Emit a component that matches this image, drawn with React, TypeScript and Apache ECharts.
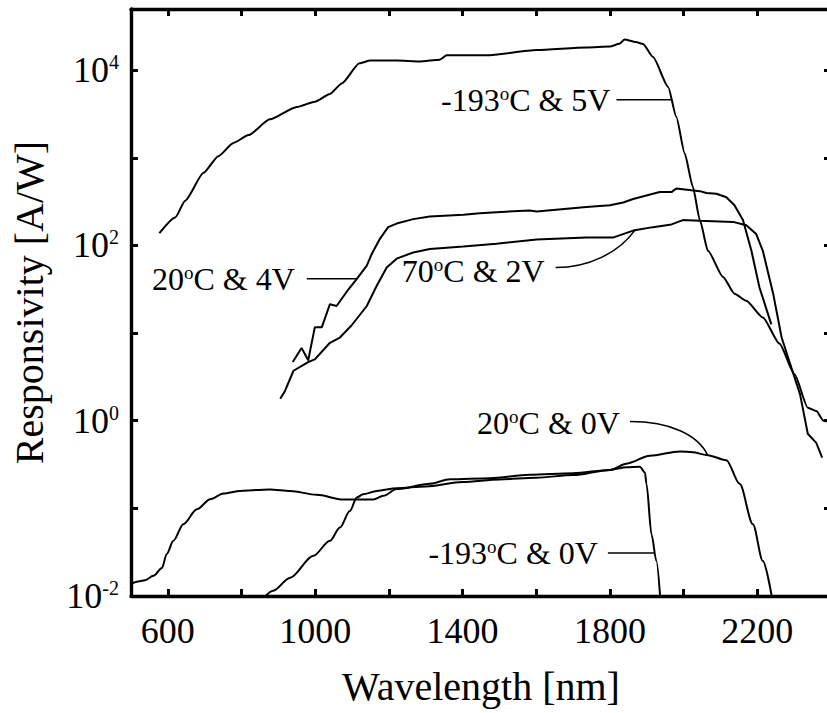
import React, { useEffect, useRef } from 'react';
import * as echarts from 'echarts';

const FONT = "'Liberation Serif', 'Times New Roman', Times, serif";

// Axis ticks / labels
const xTickValues = [600, 800, 1000, 1200, 1400, 1600, 1800, 2000, 2200, 2400];
const xLabelValues = [600, 1000, 1400, 1800, 2200];
const yTickValues = [0.01, 0.1, 1, 10, 100, 1000, 10000];
const yLabelValues = [0.01, 1, 100, 10000];

// -193°C & 5V
const wlCold5V = [577, 620, 647, 697, 737, 778, 819, 877, 950, 999, 1040, 1072, 1120, 1149, 1221, 1284, 1338, 1357, 1465, 1601, 1736, 1800, 1825, 1840, 1870, 1890, 1917, 1958, 1980, 2003, 2025, 2044, 2066, 2107, 2138, 2170, 2215, 2260, 2301, 2337, 2360, 2380, 2400];
const rCold5V = [138, 209, 324, 676, 1047, 1479, 1820, 2754, 3802, 4365, 5370, 7079, 12023, 12882, 12882, 12589, 13183, 14791, 14791, 16982, 18197, 18621, 20000, 22400, 21000, 19950, 14125, 6457, 2951, 1122, 468, 195, 87, 43.7, 28.2, 23.4, 15.1, 7.6, 3.39, 1.41, 1.29, 1.0, 0.95];

// 20°C & 4V
const wlRoom4V = [939, 963, 981, 999, 1018, 1040, 1058, 1085, 1113, 1140, 1153, 1176, 1198, 1221, 1266, 1311, 1402, 1447, 1492, 1582, 1601, 1736, 1800, 1836, 1863, 1935, 1967, 1980, 2021, 2044, 2062, 2089, 2116, 2138, 2161, 2184, 2206, 2238];
const rRoom4V = [4.68, 6.76, 4.9, 11.7, 11.7, 21.4, 20.4, 29.5, 41.7, 58.9, 79.4, 120, 162, 178, 200, 214, 224, 234, 240, 251, 245, 275, 288, 309, 339, 407, 407, 447, 427, 417, 398, 389, 355, 288, 195, 87, 33, 12.6];

// 70°C & 2V
const wlHot2V = [905, 918, 941, 981, 999, 1040, 1067, 1099, 1140, 1167, 1194, 1221, 1266, 1311, 1402, 1492, 1601, 1736, 1808, 1863, 1917, 1967, 1998, 2044, 2134, 2170, 2197, 2215, 2243, 2266, 2289, 2316, 2337, 2360, 2376];
const rHot2V = [1.78, 2.19, 3.72, 4.68, 5.01, 7.76, 8.91, 12.3, 20.4, 34.7, 56.2, 70.8, 83.2, 91.2, 97.7, 105, 117, 123, 123, 148, 162, 174, 195, 191, 186, 170, 135, 87, 28.2, 8.91, 4.47, 2.0, 0.71, 0.56, 0.38];

// -193°C & 0V
const wlCold0V = [498, 516, 538, 561, 584, 597, 615, 642, 679, 715, 751, 796, 841, 877, 932, 1004, 1076, 1158, 1185, 1221, 1311, 1366, 1474, 1582, 1700, 1800, 1845, 1881, 1895, 1899, 1913, 1926, 1937];
const rCold0V = [0.0134, 0.0145, 0.0151, 0.017, 0.0209, 0.0302, 0.0427, 0.0661, 0.0977, 0.127, 0.148, 0.158, 0.162, 0.164, 0.158, 0.143, 0.126, 0.126, 0.139, 0.166, 0.191, 0.215, 0.221, 0.242, 0.251, 0.275, 0.295, 0.298, 0.257, 0.191, 0.05, 0.0251, 0.0089];

// 20°C & 0V
const wlRoom0V = [860, 886, 932, 995, 1040, 1067, 1094, 1113, 1130, 1167, 1221, 1300, 1400, 1500, 1600, 1700, 1800, 1845, 1908, 1990, 2025, 2062, 2116, 2152, 2188, 2215, 2240];
const rRoom0V = [0.0095, 0.0115, 0.0162, 0.0288, 0.0427, 0.0603, 0.0933, 0.133, 0.145, 0.158, 0.17, 0.178, 0.2, 0.214, 0.224, 0.24, 0.275, 0.324, 0.398, 0.447, 0.437, 0.407, 0.355, 0.191, 0.066, 0.0251, 0.0095];

// Annotation labels: text pieces and the curve point their leader touches
const annotations = [
  { pre: '-193', post: 'C & 5V', at: [1967, 4600], kind: 'line', start: [-55, 0], label: [-61, 0] },
  { pre: '20', post: 'C & 4V', at: [1113, 41.7], kind: 'line', start: [-50, 0], label: [-62, 0] },
  { pre: '70', post: 'C & 2V', at: [1867, 148], kind: 'curve', start: [-79, 37], c1: [-46, 37], c2: [-16, 22], label: [-90, 40] },
  { pre: '20', post: 'C & 0V', at: [2066, 0.4], kind: 'curve', start: [-78, -34], c1: [-38, -34], c2: [-10, -21], label: [-88, -33] },
  { pre: '-193', post: 'C & 0V', at: [1922, 0.031], kind: 'line', start: [-47, 0], label: [-57, 0] },
];

const zip = (xs: number[], ys: number[]) => xs.map((x, i) => [x, ys[i]]);

const lineSeries = (name: string, xs: number[], ys: number[], smooth: number | boolean) => ({
  name,
  type: 'line',
  xAxisIndex: 0,
  yAxisIndex: 0,
  data: zip(xs, ys),
  showSymbol: false,
  symbol: 'none',
  smooth,
  smoothMonotone: 'x',
  clip: true,
  lineStyle: { color: '#000', width: 2 },
  itemStyle: { color: '#000' },
  z: 3,
});

const tickStyle = { inside: true, length: 7, lineStyle: { color: '#000', width: 3 } };
const axisLineStyle = { show: true, lineStyle: { color: '#000', width: 3.4 } };

export default function App() {
  const ref = useRef<HTMLDivElement>(null);

  useEffect(() => {
    const el = ref.current!;
    const chart = echarts.init(el, null, { renderer: 'svg' });
    const option: any = {
      animation: false,
      backgroundColor: '#fff',
      grid: { left: 131, right: 9, top: 9, bottom: 117, containLabel: false },
      xAxis: [
        {
          type: 'value',
          position: 'bottom',
          min: 500,
          max: 2400,
          axisLine: axisLineStyle,
          axisTick: { ...tickStyle, customValues: xTickValues },
          splitLine: { show: false },
          axisLabel: {
            customValues: xLabelValues,
            formatter: (v: number) => String(v),
            fontFamily: FONT,
            fontSize: 36,
            color: '#000',
            margin: 17,
          },
          name: 'Wavelength [nm]',
          nameLocation: 'middle',
          nameGap: 70,
          nameTextStyle: { fontFamily: FONT, fontSize: 40, color: '#000' },
        },
        {
          type: 'value',
          position: 'top',
          min: 500,
          max: 2400,
          axisLine: axisLineStyle,
          axisTick: { ...tickStyle, customValues: xTickValues },
          splitLine: { show: false },
          axisLabel: { show: false },
        },
      ],
      yAxis: [
        {
          type: 'log',
          logBase: 10,
          position: 'left',
          min: 0.01,
          max: 50000,
          axisLine: axisLineStyle,
          axisTick: { ...tickStyle, customValues: yTickValues },
          splitLine: { show: false },
          minorTick: { show: false },
          axisLabel: {
            customValues: yLabelValues,
            formatter: (v: number) => `{b|10}{s|${Math.round(Math.log10(v))}}`,
            margin: 12,
            rich: {
              b: { fontFamily: FONT, fontSize: 36, lineHeight: 36, color: '#000' },
              s: { fontFamily: FONT, fontSize: 20, lineHeight: 25, verticalAlign: 'top', color: '#000' },
            },
          },
          name: 'Responsivity [A/W]',
          nameLocation: 'middle',
          nameGap: 82,
          nameTextStyle: { fontFamily: FONT, fontSize: 40, color: '#000' },
        },
        {
          type: 'log',
          logBase: 10,
          position: 'right',
          min: 0.01,
          max: 50000,
          axisLine: axisLineStyle,
          axisTick: { ...tickStyle, customValues: yTickValues },
          splitLine: { show: false },
          minorTick: { show: false },
          axisLabel: { show: false },
        },
      ],
      series: [
        lineSeries('-193°C & 5V', wlCold5V, rCold5V, 0.2),
        lineSeries('20°C & 4V', wlRoom4V, rRoom4V, false),
        lineSeries('70°C & 2V', wlHot2V, rHot2V, false),
        lineSeries('-193°C & 0V', wlCold0V, rCold0V, 0.3),
        lineSeries('20°C & 0V', wlRoom0V, rRoom0V, 0.3),
      ],
    };
    chart.setOption(option);

    const graphics: any[] = [];
    annotations.forEach((a: any) => {
      const p = chart.convertToPixel({ xAxisIndex: 0, yAxisIndex: 0 }, a.at) as number[];
      if (!p) return;
      const [ax, ay] = p;
      const sx = ax + a.start[0];
      const sy = ay + a.start[1];
      if (a.kind === 'line') {
        graphics.push({
          type: 'line',
          shape: { x1: sx, y1: sy, x2: ax, y2: ay },
          style: { stroke: '#000', lineWidth: 1.5 },
          z: 10,
        });
      } else {
        graphics.push({
          type: 'bezierCurve',
          shape: {
            x1: sx, y1: sy, x2: ax, y2: ay,
            cpx1: ax + a.c1[0], cpy1: ay + a.c1[1],
            cpx2: ax + a.c2[0], cpy2: ay + a.c2[1],
          },
          style: { stroke: '#000', lineWidth: 1.5, fill: 'none' },
          z: 10,
        });
      }
      graphics.push({
        type: 'text',
        x: ax + a.label[0],
        y: ay + a.label[1],
        z: 10,
        style: {
          text: `{t|${a.pre}}{o|o}{t|${a.post}}`,
          align: 'right',
          verticalAlign: 'middle',
          fill: '#000',
          fontFamily: FONT,
          fontSize: 32,
          rich: {
            t: { fontFamily: FONT, fontSize: 32, lineHeight: 32, fill: '#000' },
            o: { fontFamily: FONT, fontSize: 19, lineHeight: 23, verticalAlign: 'top', fill: '#000' },
          },
        },
      });
    });
    chart.setOption({ graphic: graphics });

    return () => chart.dispose();
  }, []);

  return (
    <div style={{ position: 'absolute', left: 0, top: 0, width: 827, height: 713, overflow: 'hidden', background: '#fff' }}>
      <div ref={ref} style={{ width: 840, height: 713 }} />
    </div>
  );
}
